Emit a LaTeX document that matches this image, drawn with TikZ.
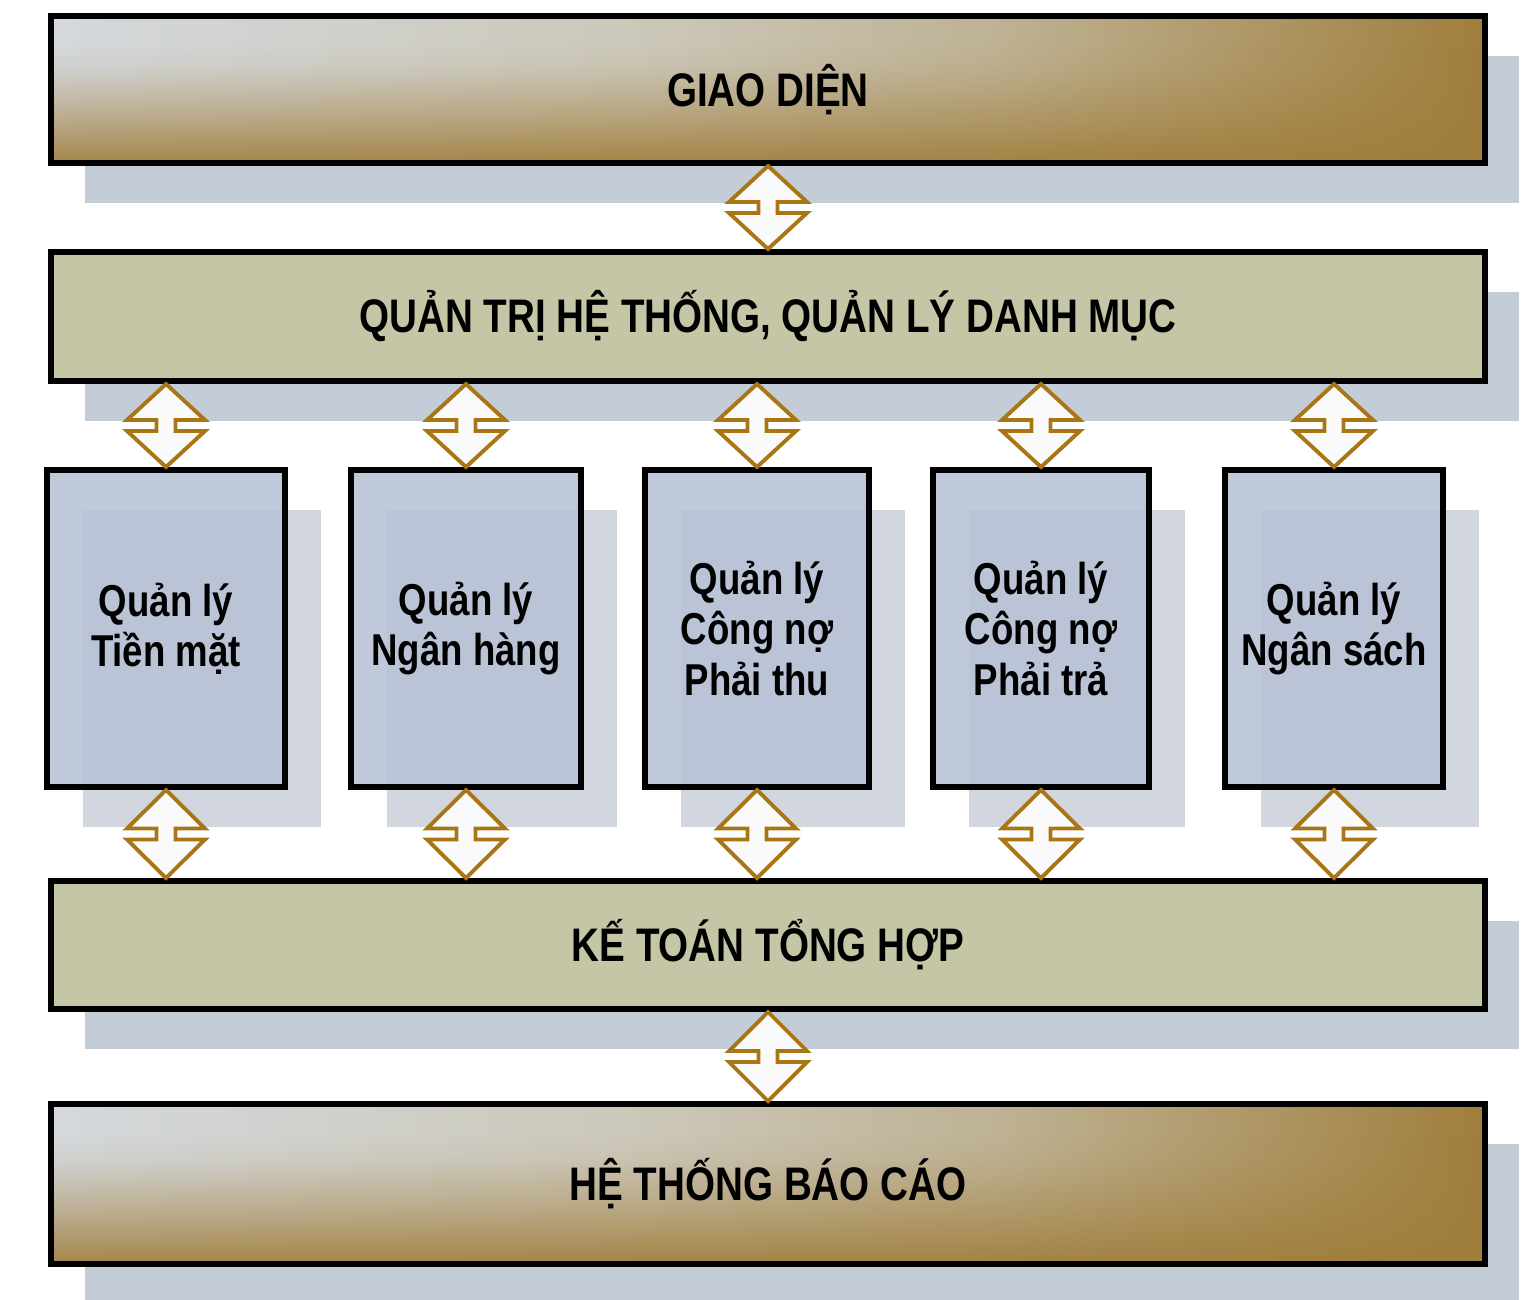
\documentclass[tikz,border=0pt]{standalone}
\usepackage{fontspec}
\setmainfont{Liberation Sans}[FakeStretch=0.82]
\usetikzlibrary{calc,shadows,fadings}

% Colours of the layers
\definecolor{barlight}{RGB}{212,216,220}
\definecolor{barmid}{RGB}{204,200,186}
\definecolor{bartan}{RGB}{190,178,148}
\definecolor{bargold}{RGB}{160,126,60}
\definecolor{barolive}{RGB}{197,198,166}
\definecolor{modfill}{RGB}{184,195,214}
\definecolor{barshade}{RGB}{196,204,216}
\definecolor{modshade}{RGB}{210,214,222}
\definecolor{arrowgold}{RGB}{168,118,20}
\definecolor{arrowfill}{RGB}{250,250,250}

% Gold sweep to the right and to the bottom of the outer layers
\pgfdeclarehorizontalshading{barsweep}{100bp}{color(0bp)=(barlight); color(25bp)=(barlight);
    color(45bp)=(barmid); color(58bp)=(bartan); color(75bp)=(bargold); color(100bp)=(bargold)}
\pgfdeclareverticalshading{barfadeshade}{100bp}{color(0bp)=(transparent!10); color(25bp)=(transparent!10);
    color(30bp)=(transparent!22); color(40bp)=(transparent!50); color(50bp)=(transparent!75);
    color(57.5bp)=(transparent!92); color(65bp)=(transparent!100); color(100bp)=(transparent!100)}
\pgfdeclarefading{barfade}{\pgfuseshading{barfadeshade}}

\begin{document}
\begin{tikzpicture}[
    layerbar/.style={line width=1.7pt, minimum width=14.34cm,
        font=\fontsize{13.4}{15}\selectfont\bfseries,
        general shadow={fill=barshade, shadow xshift=0.34cm, shadow yshift=-0.40cm}},
    goldbar/.style={layerbar, shade, shading=barsweep,
        postaction={fill=bargold, path fading=barfade},
        postaction={draw=black, line width=1.7pt}},
    olivebar/.style={layerbar, draw=black, fill=barolive},
    module/.style={draw=black, line width=1.7pt, fill=modfill, fill opacity=0.9, text opacity=1,
        minimum height=3.17cm, align=center,
        font=\fontsize{12.7}{14.3}\selectfont\bfseries,
        general shadow={fill=modshade, fill opacity=1, shadow xshift=0.36cm, shadow yshift=-0.40cm}},
    twoway/.style={draw=arrowgold, fill=arrowfill, line width=1.1pt, line join=miter,
        to path={let \p1=($(\tikztostart)!0.5!(\tikztotarget)$) in
            -- (\x1+0.39cm,\y1+0.055cm) -- (\x1+0.095cm,\y1+0.055cm)
            -- (\x1+0.095cm,\y1-0.055cm) -- (\x1+0.39cm,\y1-0.055cm)
            -- (\tikztotarget)
            -- (\x1-0.39cm,\y1-0.055cm) -- (\x1-0.095cm,\y1-0.055cm)
            -- (\x1-0.095cm,\y1+0.055cm) -- (\x1-0.39cm,\y1+0.055cm)
            -- cycle}}
]
    \useasboundingbox (0,0) rectangle (15.36,-12.99);

    % Layers of the system
    \node[goldbar, minimum height=1.47cm] (giaodien) at (7.68,-0.895) {GIAO DIỆN};
    \node[olivebar, minimum height=1.29cm] (quantri) at (7.68,-3.165) {QUẢN TRỊ HỆ THỐNG, QUẢN LÝ DANH MỤC};
    \node[olivebar, minimum height=1.28cm] (ketoan) at (7.68,-9.45) {KẾ TOÁN TỔNG HỢP};
    \node[goldbar, minimum height=1.60cm] (baocao) at (7.68,-11.84) {HỆ THỐNG BÁO CÁO};

    % Modules
    \node[module, minimum width=2.38cm] (tienmat) at (1.66,-6.285) {Quản lý\\Tiền mặt};
    \node[module, minimum width=2.30cm] (nganhang) at (4.66,-6.285) {Quản lý\\Ngân hàng};
    \node[module, minimum width=2.24cm] (phaithu) at (7.57,-6.285) {Quản lý\\Công nợ\\Phải thu};
    \node[module, minimum width=2.16cm] (phaitra) at (10.41,-6.285) {Quản lý\\Công nợ\\Phải trả};
    \node[module, minimum width=2.18cm] (ngansach) at (13.34,-6.285) {Quản lý\\Ngân sách};

    % Two-way links between layers
    \draw[twoway] (giaodien.south) to (quantri.north -| giaodien.south);
    \draw[twoway] (ketoan.south) to (baocao.north -| ketoan.south);

    % Two-way links of the modules
    \draw[twoway] (quantri.south -| tienmat.north) to (tienmat.north);
    \draw[twoway] (quantri.south -| nganhang.north) to (nganhang.north);
    \draw[twoway] (quantri.south -| phaithu.north) to (phaithu.north);
    \draw[twoway] (quantri.south -| phaitra.north) to (phaitra.north);
    \draw[twoway] (quantri.south -| ngansach.north) to (ngansach.north);
    \draw[twoway] (tienmat.south) to (ketoan.north -| tienmat.south);
    \draw[twoway] (nganhang.south) to (ketoan.north -| nganhang.south);
    \draw[twoway] (phaithu.south) to (ketoan.north -| phaithu.south);
    \draw[twoway] (phaitra.south) to (ketoan.north -| phaitra.south);
    \draw[twoway] (ngansach.south) to (ketoan.north -| ngansach.south);
\end{tikzpicture}
\end{document}
